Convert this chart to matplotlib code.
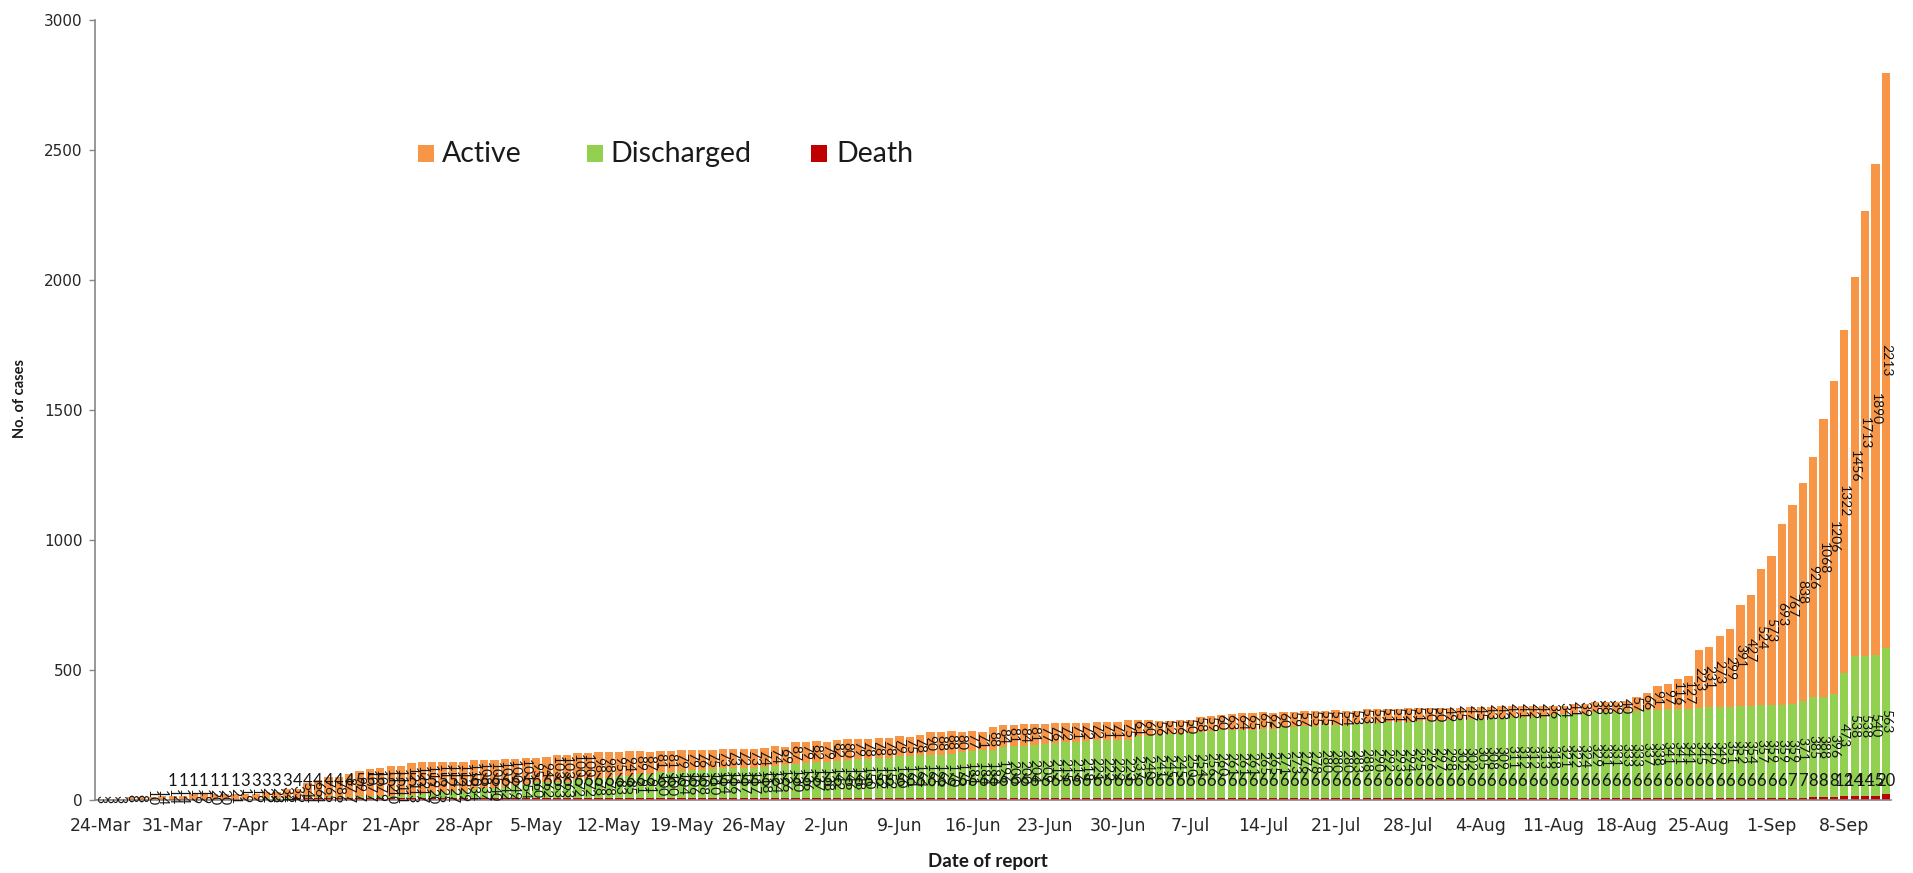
import matplotlib
matplotlib.use('Agg')
import matplotlib.pyplot as plt
import numpy as np
import pandas as pd
from matplotlib.patches import Rectangle

dates = pd.date_range('2020-03-24', '2020-09-12', freq='D')

tick_labels = ['24-Mar', '31-Mar', '7-Apr', '14-Apr', '21-Apr', '28-Apr', '5-May',
               '12-May', '19-May', '26-May', '2-Jun', '9-Jun', '16-Jun', '23-Jun',
               '30-Jun', '7-Jul', '14-Jul', '21-Jul', '28-Jul', '4-Aug', '11-Aug',
               '18-Aug', '25-Aug', '1-Sep', '8-Sep']

active = [3, 3, 3, 8, 8, 10, 14, 14, 14, 19, 19, 20, 20, 21, 19, 19, 22, 23, 34, 35,
          54, 66, 76, 78, 87, 99, 107, 107, 112, 111, 121, 122, 119, 116, 114, 112, 110, 108, 105, 107,
          100, 101, 95, 94, 103, 103, 100, 100, 98, 98, 95, 94, 89, 87, 81, 81, 79, 79, 76, 75,
          73, 73, 72, 73, 74, 74, 69, 87, 79, 82, 79, 82, 80, 79, 78, 78, 78, 79, 75, 78,
          90, 88, 88, 80, 77, 71, 88, 84, 81, 84, 81, 77, 76, 72, 71, 72, 72, 71, 71, 75,
          61, 60, 56, 52, 56, 50, 58, 59, 60, 63, 64, 65, 65, 62, 60, 59, 57, 55, 55, 57,
          54, 53, 53, 52, 51, 51, 52, 51, 50, 50, 49, 45, 47, 45, 43, 43, 42, 41, 42, 41,
          36, 34, 41, 39, 39, 38, 39, 40, 57, 66, 91, 97, 116, 127, 223, 231, 273, 299, 391, 427,
          524, 573, 693, 767, 838, 926, 1068, 1206, 1322, 1456, 1713, 1890, 2213]

discharged = [0, 0, 0, 0, 0, 0, 0, 0, 0, 0, 0, 0, 0, 0, 0, 0, 2, 2, 2, 2,
              4, 4, 5, 6, 7, 7, 7, 9, 10, 11, 13, 17, 20, 25, 27, 29, 34, 37, 40, 42,
              49, 54, 60, 62, 63, 63, 72, 72, 78, 78, 83, 85, 91, 91, 100, 100, 104, 106, 108, 110,
              114, 116, 117, 117, 118, 124, 126, 130, 136, 137, 138, 142, 146, 148, 150, 152, 152, 160, 161, 164,
              165, 166, 170, 175, 181, 184, 184, 196, 200, 200, 204, 209, 212, 215, 216, 218, 221, 222, 222, 223,
              237, 240, 241, 245, 245, 250, 254, 256, 260, 261, 261, 261, 265, 265, 271, 273, 276, 278, 280, 280,
              280, 283, 288, 290, 292, 293, 294, 295, 296, 297, 298, 302, 302, 305, 308, 309, 311, 312, 312, 313,
              318, 321, 322, 324, 329, 331, 331, 333, 333, 337, 338, 341, 341, 341, 345, 349, 349, 351, 352, 354,
              357, 359, 359, 359, 371, 385, 388, 396, 473, 538, 538, 540, 563]

death = [0, 0, 0, 0, 0, 0, 0, 1, 1, 1, 1, 1, 1, 1, 3, 3, 3, 3, 3, 4,
         4, 4, 4, 4, 4, 5, 5, 5, 5, 5, 5, 5, 5, 5, 5, 5, 6, 6, 6, 6,
         6, 6, 6, 6, 6, 6, 6, 6, 6, 6, 6, 6, 6, 6, 6, 6, 6, 6, 6, 6,
         6, 6, 6, 6, 6, 6, 6, 6, 6, 6, 6, 6, 6, 6, 6, 6, 6, 6, 6, 6,
         6, 6, 6, 6, 6, 6, 6, 6, 6, 6, 6, 6, 6, 6, 6, 6, 6, 6, 6, 6,
         6, 6, 6, 6, 6, 6, 6, 6, 6, 6, 6, 6, 6, 6, 6, 6, 6, 6, 6, 6,
         6, 6, 6, 6, 6, 6, 6, 6, 6, 6, 6, 6, 6, 6, 6, 6, 6, 6, 6, 6,
         6, 6, 6, 6, 6, 6, 6, 6, 6, 6, 6, 6, 6, 6, 6, 6, 6, 6, 6, 6,
         6, 6, 6, 7, 7, 8, 8, 8, 12, 14, 14, 15, 20]

assert len(active) == len(dates) == len(discharged) == len(death)

W, H = 1913, 873
fig = plt.figure(figsize=(W / 100, H / 100), dpi=100)
ax = fig.add_axes([95 / W, 1 - 799.5 / H, 1796 / W, 780 / H])

x = np.arange(len(dates))
act = np.array(active)
dis = np.array(discharged)
dth = np.array(death)
bw = 0.80
c_act, c_dis, c_dth = '#F79646', '#92D050', '#C00000'

ax.bar(x, dth, bw, color=c_dth, linewidth=0)
ax.bar(x, dis, bw, bottom=dth, color=c_dis, linewidth=0)
ax.bar(x, act, bw, bottom=dth + dis, color=c_act, linewidth=0)

lab_font = 'Lato'
lab_size = 10
txt_col = '#141414'
for i in range(len(x)):
    if act[i] > 0:
        ax.text(x[i], dth[i] + dis[i] + act[i] / 2, str(act[i]), rotation=270,
                ha='center', va='center', fontsize=lab_size, family=lab_font,
                color=txt_col, rotation_mode='anchor')
    if dis[i] > 0:
        ax.text(x[i], dth[i] + dis[i] / 2, str(dis[i]), rotation=270,
                ha='center', va='center', fontsize=lab_size, family=lab_font,
                color=txt_col, rotation_mode='anchor')
    if dth[i] > 0:
        ax.annotate(str(dth[i]), (x[i], 0), xytext=(0, 13), textcoords='offset points',
                    ha='center', va='center', fontsize=12, family=lab_font,
                    color=txt_col)

ax.set_xlim(-0.48, len(x) - 0.5)
ax.set_ylim(0, 3000)
ax.set_yticks(np.arange(0, 3001, 500))
ax.set_xticks(x[::7])
ax.set_xticklabels(tick_labels)

for s in ['top', 'right']:
    ax.spines[s].set_visible(False)
for s in ['left', 'bottom']:
    ax.spines[s].set_color('#868686')
    ax.spines[s].set_linewidth(1.2)

ax.tick_params(axis='x', length=0, pad=12.5, labelsize=12.5, labelcolor='#262626')
ax.tick_params(axis='y', length=4, width=1, color='#868686', pad=5, labelsize=11,
               labelcolor='#262626')
for t in ax.get_xticklabels() + ax.get_yticklabels():
    t.set_family('DejaVu Sans')

fig.text(20 / W, 1 - 399 / H, 'No. of cases', rotation=90, ha='center', va='center',
         fontsize=10.5, fontweight='bold', family='Lato', color='#1a1a1a')
fig.text(988 / W, 1 - 861 / H, 'Date of report', ha='center', va='center',
         fontsize=13.5, fontweight='bold', family='Lato', color='#1a1a1a')

legend_items = [('Active', c_act, 418, 442), ('Discharged', c_dis, 587, 610),
                ('Death', c_dth, 811, 836)]
for name, col, sx, tx in legend_items:
    fig.patches.append(Rectangle((sx / W, 1 - 162 / H), 16 / W, 17 / H,
                                 transform=fig.transFigure, facecolor=col,
                                 edgecolor='none', figure=fig))
    fig.text(tx / W, 1 - 154 / H, name, ha='left', va='center', fontsize=20.5,
             family='Lato', color='#1a1a1a')

fig.savefig('out.png', dpi=100)
